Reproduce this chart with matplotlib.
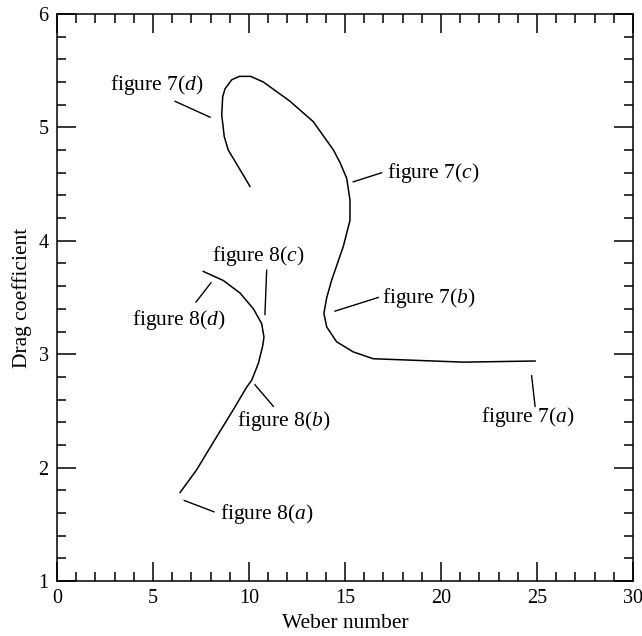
import matplotlib
matplotlib.use("Agg")
import matplotlib.pyplot as plt
from matplotlib.ticker import MultipleLocator

plt.rcParams['font.family'] = ['Liberation Serif', 'DejaVu Serif']
plt.rcParams['mathtext.fontset'] = 'custom'
plt.rcParams['mathtext.rm'] = 'Liberation Serif'
plt.rcParams['mathtext.it'] = 'Liberation Serif:italic'

# figure 7 branch (Weber number, drag coefficient)
we_7 = [24.9, 21.16, 16.47, 15.43, 14.56, 14.05, 13.9, 14.05, 14.3, 14.91,
        15.26, 15.26, 15.09, 14.74, 14.4, 13.35, 12.14, 10.75, 10.09, 9.5,
        9.1, 8.75, 8.63, 8.58, 8.71, 8.92, 9.7, 10.05]
cd_7 = [2.94, 2.93, 2.96, 3.02, 3.11, 3.24, 3.36, 3.5, 3.65, 3.95,
        4.18, 4.36, 4.55, 4.69, 4.80, 5.05, 5.23, 5.40, 5.45, 5.45,
        5.42, 5.34, 5.27, 5.11, 4.92, 4.80, 4.58, 4.48]

# figure 8 branch
we_8 = [7.62, 8.66, 9.53, 10.23, 10.66, 10.78, 10.71, 10.49, 10.14, 9.88,
        9.18, 8.2, 7.27, 6.41]
cd_8 = [3.73, 3.65, 3.54, 3.40, 3.27, 3.15, 3.07, 2.92, 2.77, 2.71,
        2.51, 2.24, 1.98, 1.78]

# labels: (figure, panel, text xy, line start, line end, ha)
labels = [
    ('7', 'a', (24.5, 2.45), (24.72, 2.81), (24.9, 2.54), 'center'),
    ('7', 'b', (16.95, 3.50), (14.48, 3.38), (16.73, 3.50), 'left'),
    ('7', 'c', (17.2, 4.60), (15.43, 4.52), (16.91, 4.60), 'left'),
    ('7', 'd', (5.19, 5.37), (6.15, 5.23), (7.97, 5.09), 'center'),
    ('8', 'a', (8.5, 1.59), (6.63, 1.71), (8.18, 1.61), 'left'),
    ('8', 'b', (9.4, 2.41), (10.31, 2.73), (11.27, 2.54), 'left'),
    ('8', 'c', (10.48, 3.87), (10.92, 3.74), (10.83, 3.35), 'center'),
    ('8', 'd', (6.35, 3.30), (8.02, 3.63), (7.24, 3.46), 'center'),
]

fig = plt.figure(figsize=(6.42, 6.36), dpi=100)
ax = fig.add_axes([57 / 642, 55 / 636, 576 / 642, 567 / 636])

ax.plot(we_7, cd_7, color='black', lw=1.1)
ax.plot(we_8, cd_8, color='black', lw=1.1)

for fig_no, panel, txt, p0, p1, ha in labels:
    ax.plot([p0[0], p1[0]], [p0[1], p1[1]], color='black', lw=1.0)
    ax.text(txt[0], txt[1], 'figure %s($\\mathit{%s}$)' % (fig_no, panel),
            ha=ha, va='center', fontsize=15.5)

ax.set_xlim(0, 30)
ax.set_ylim(1, 6)
ax.xaxis.set_major_locator(MultipleLocator(5))
ax.xaxis.set_minor_locator(MultipleLocator(1))
ax.yaxis.set_major_locator(MultipleLocator(1))
ax.yaxis.set_minor_locator(MultipleLocator(0.2))
ax.tick_params(which='both', direction='in', top=True, right=True,
               labelsize=14.5, width=1.1, color='black')
ax.tick_params(which='major', length=13.5)
ax.tick_params(which='minor', length=6.8)
ax.tick_params(axis='x', pad=6)
ax.tick_params(axis='y', pad=6)
for s in ax.spines.values():
    s.set_linewidth(1.1)

ax.set_xlabel('Weber number', fontsize=15.5, labelpad=4)
ax.set_ylabel('Drag coefficient', fontsize=15.5, labelpad=5)

fig.savefig('out.png', dpi=100)
